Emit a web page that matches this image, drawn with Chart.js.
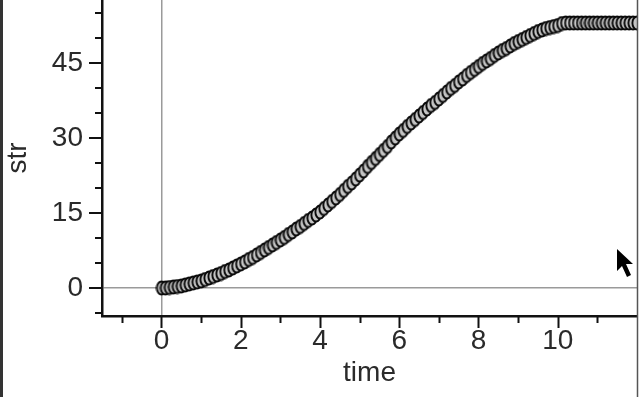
<!DOCTYPE html>
<html lang="en">
<head>
    <meta charset="utf-8">
    <script src="https://cdn.jsdelivr.net/npm/chart.js"></script>
    <style>
        body {
            margin: 0;
            padding: 0;
            background-color: #ffffff;
        }
        #strChart {
            display: block;
        }
    </style>
</head>
<body>
    <canvas id="strChart" width="639" height="397"></canvas>
    <script>
        // sample times (s)
        const times = [
            0.0, 0.1, 0.2, 0.3, 0.4, 0.5, 0.6, 0.7, 0.8, 0.9,
            1.0, 1.1, 1.2, 1.3, 1.4, 1.5, 1.6, 1.7, 1.8, 1.9,
            2.0, 2.1, 2.2, 2.3, 2.4, 2.5, 2.6, 2.7, 2.8, 2.9,
            3.0, 3.1, 3.2, 3.3, 3.4, 3.5, 3.6, 3.7, 3.8, 3.9,
            4.0, 4.1, 4.2, 4.3, 4.4, 4.5, 4.6, 4.7, 4.8, 4.9,
            5.0, 5.1, 5.2, 5.3, 5.4, 5.5, 5.6, 5.7, 5.8, 5.9,
            6.0, 6.1, 6.2, 6.3, 6.4, 6.5, 6.6, 6.7, 6.8, 6.9,
            7.0, 7.1, 7.2, 7.3, 7.4, 7.5, 7.6, 7.7, 7.8, 7.9,
            8.0, 8.1, 8.2, 8.3, 8.4, 8.5, 8.6, 8.7, 8.8, 8.9,
            9.0, 9.1, 9.2, 9.3, 9.4, 9.5, 9.6, 9.7, 9.8, 9.9,
            10.0, 10.1, 10.2, 10.3, 10.4, 10.5, 10.6, 10.7, 10.8, 10.9,
            11.0, 11.1, 11.2, 11.3, 11.4, 11.5, 11.6, 11.7, 11.8, 11.9,
            12.0
        ];
        // measured str values
        const strValues = [
            0.0, 0.0, 0.1, 0.2, 0.3, 0.4, 0.6, 0.8, 1.0, 1.2,
            1.4, 1.7, 2.0, 2.3, 2.6, 2.9, 3.3, 3.6, 4.0, 4.4,
            4.8, 5.2, 5.7, 6.1, 6.6, 7.1, 7.6, 8.1, 8.6, 9.1,
            9.6, 10.1, 10.7, 11.2, 11.8, 12.3, 12.9, 13.5, 14.0, 14.6,
            15.2, 15.9, 16.6, 17.3, 18.0, 18.7, 19.5, 20.3, 21.0, 21.8,
            22.6, 23.4, 24.3, 25.1, 25.9, 26.7, 27.5, 28.3, 29.2, 30.0,
            30.8, 31.5, 32.3, 33.0, 33.7, 34.4, 35.1, 35.8, 36.5, 37.1,
            37.8, 38.5, 39.2, 39.9, 40.5, 41.2, 41.8, 42.5, 43.1, 43.7,
            44.3, 44.9, 45.4, 45.9, 46.5, 47.0, 47.5, 47.9, 48.4, 48.9,
            49.3, 49.7, 50.1, 50.5, 50.9, 51.3, 51.6, 51.9, 52.1, 52.3,
            52.5, 52.9, 53.0, 53.0, 53.0, 53.0, 53.0, 53.0, 53.0, 53.0,
            53.0, 53.0, 53.0, 53.0, 53.0, 53.0, 53.0, 53.0, 53.0, 53.0,
            53.0
        ];
        // tick positions
        const xMajorTicks = [0, 2, 4, 6, 8, 10];
        const xMinorTicks = [-1, 1, 3, 5, 7, 9, 11];
        const yMajorTicks = [0, 15, 30, 45];
        const yMinorTicks = [-5, 5, 10, 20, 25, 35, 40, 50, 55];

        const points = times.map((t, i) => ({ x: t, y: strValues[i] }));

        // the markers are slightly tall ovals, so draw one into a small canvas
        const marker = document.createElement('canvas');
        marker.width = 12;
        marker.height = 16;
        const mctx = marker.getContext('2d');
        mctx.beginPath();
        mctx.ellipse(6, 8, 4.6, 6.5, 0, 0, Math.PI * 2);
        mctx.fillStyle = '#c4c4c4';
        mctx.fill();
        mctx.lineWidth = 1.9;
        mctx.strokeStyle = '#0a0a0a';
        mctx.stroke();

        // tick marks of two lengths, frame lines and the mouse pointer
        const extrasPlugin = {
            id: 'extras',
            afterDraw(chart) {
                const ctx = chart.ctx;
                const xs = chart.scales.x;
                const ys = chart.scales.y;
                const left = chart.chartArea.left;
                const bottom = chart.chartArea.bottom;
                ctx.save();
                ctx.strokeStyle = '#111';
                ctx.lineWidth = 2;
                const tick = (x1, y1, x2, y2) => {
                    ctx.beginPath();
                    ctx.moveTo(x1, y1);
                    ctx.lineTo(x2, y2);
                    ctx.stroke();
                };
                xMajorTicks.forEach(v => {
                    const px = Math.round(xs.getPixelForValue(v)) + 0.5;
                    tick(px, bottom, px, bottom + 12);
                });
                xMinorTicks.forEach(v => {
                    const px = Math.round(xs.getPixelForValue(v)) + 0.5;
                    tick(px, bottom, px, bottom + 7);
                });
                yMajorTicks.forEach(v => {
                    const py = Math.round(ys.getPixelForValue(v));
                    tick(left - 13, py, left, py);
                });
                yMinorTicks.forEach(v => {
                    const py = Math.round(ys.getPixelForValue(v));
                    tick(left - 7, py, left, py);
                });
                // frame
                ctx.strokeStyle = '#333';
                ctx.lineWidth = 3;
                tick(1.5, 0, 1.5, chart.height);
                ctx.strokeStyle = '#555';
                ctx.lineWidth = 1.5;
                tick(637.5, 0, 637.5, chart.height);
                // mouse pointer
                ctx.fillStyle = '#000';
                ctx.beginPath();
                ctx.moveTo(617, 249);
                ctx.lineTo(617, 271);
                ctx.lineTo(622, 266);
                ctx.lineTo(627, 277);
                ctx.lineTo(631, 275);
                ctx.lineTo(626, 264);
                ctx.lineTo(633, 264);
                ctx.closePath();
                ctx.fill();
                ctx.restore();
            }
        };

        Chart.defaults.font.family = "'Liberation Sans', Arial, sans-serif";
        Chart.defaults.font.size = 28;
        Chart.defaults.color = '#2a2a2a';

        const zeroGrid = ctx => (ctx.tick && ctx.tick.value === 0) ? '#9a9a9a' : 'rgba(0,0,0,0)';

        new Chart(document.getElementById('strChart'), {
            type: 'scatter',
            data: {
                datasets: [{
                    data: points,
                    pointStyle: marker,
                    pointRadius: 6,
                    showLine: false
                }]
            },
            options: {
                responsive: false,
                animation: false,
                devicePixelRatio: 1,
                layout: {
                    autoPadding: false,
                    padding: { left: 0, right: 2, top: 0, bottom: 0 }
                },
                plugins: {
                    legend: { display: false },
                    tooltip: { enabled: false }
                },
                scales: {
                    x: {
                        type: 'linear',
                        min: -1.5,
                        max: 12,
                        afterFit(scale) {
                            scale.height = 81;
                            scale.paddingLeft = 0;
                            scale.paddingRight = 0;
                        },
                        ticks: {
                            stepSize: 2,
                            includeBounds: false,
                            padding: 8,
                            maxRotation: 0,
                            autoSkip: false,
                            callback: v => xMajorTicks.includes(v) ? String(v) : ''
                        },
                        grid: { drawTicks: false, color: zeroGrid, lineWidth: 1.5 },
                        border: { display: true, color: '#111', width: 2.5 },
                        title: { display: true, text: 'time', padding: { top: 0, bottom: 7 } }
                    },
                    y: {
                        type: 'linear',
                        min: -5.6,
                        max: 57.6,
                        afterFit(scale) {
                            scale.width = 102;
                            scale.paddingTop = 0;
                            scale.paddingBottom = 0;
                        },
                        ticks: {
                            stepSize: 15,
                            includeBounds: false,
                            padding: 19,
                            autoSkip: false,
                            callback: v => yMajorTicks.includes(v) ? String(v) : ''
                        },
                        grid: { drawTicks: false, color: zeroGrid, lineWidth: 1.5 },
                        border: { display: true, color: '#111', width: 2.5 },
                        title: { display: true, text: 'str', padding: { top: 1, bottom: 0 } }
                    }
                }
            },
            plugins: [extrasPlugin]
        });
    </script>
</body>
</html>
